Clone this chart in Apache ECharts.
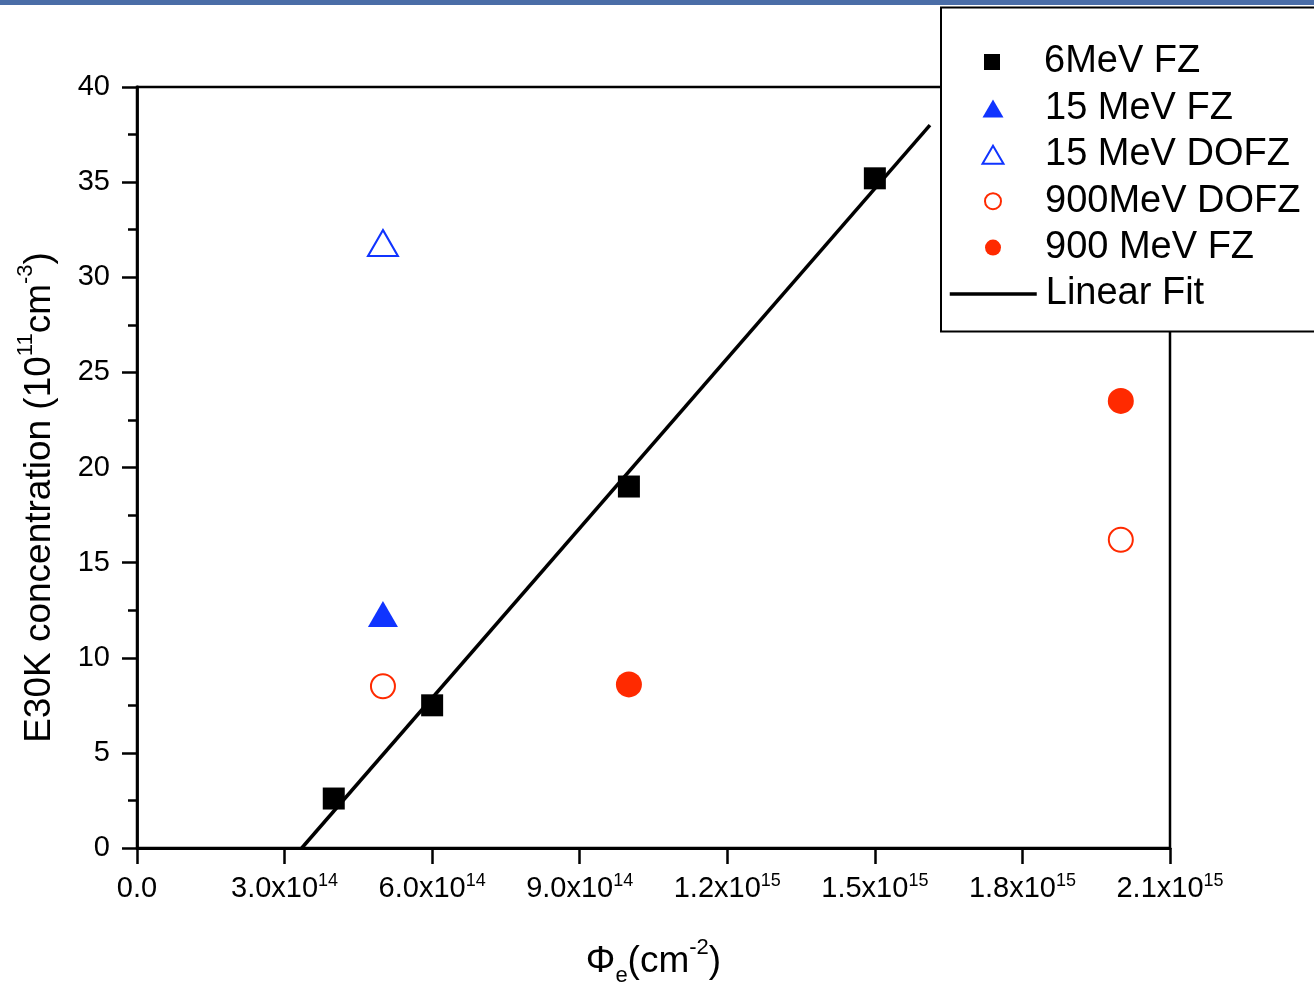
<!DOCTYPE html>
<html>
<head>
<meta charset="utf-8">
<title>E30K concentration vs fluence</title>
<script src="https://cdn.jsdelivr.net/npm/echarts@6/dist/echarts.min.js"></script>
<style>
  html, body { margin: 0; padding: 0; background: #fff; }
  #chart { width: 1314px; height: 986px; }
</style>
</head>
<body>
<div id="chart"></div>
<script>
// Measured E30K concentrations (10^11 cm^-3) against fluence (cm^-2)
const mev6FZ      = [[4.0e14, 2.6], [6.0e14, 7.5], [1.0e15, 19.0], [1.5e15, 35.2]];
const mev15FZ     = [[5.0e14, 12.3]];
const mev15DOFZ   = [[5.0e14, 31.8]];
const mev900DOFZ  = [[5.0e14, 8.5], [2.0e15, 16.2]];
const mev900FZ    = [[1.0e15, 8.6], [2.0e15, 23.5]];
// End points of the straight-line fit through the 6 MeV FZ data
const linearFit   = [[3.35e14, 0], [1.612e15, 38.0]];

const seriesNames = ['6MeV FZ', '15 MeV FZ', '15 MeV DOFZ', '900MeV DOFZ', '900 MeV FZ', 'Linear Fit'];

// x tick labels: mantissa text and power of ten
const xTickText  = ['0.0', '3.0x10', '6.0x10', '9.0x10', '1.2x10', '1.5x10', '1.8x10', '2.1x10'];
const xTickPower = ['', '14', '14', '14', '15', '15', '15', '15'];
const xStep = 3e14;

const FONT = '"Liberation Sans", Arial, sans-serif';
const BLUE = '#1034ff';
const RED = '#ff2a00';

// Legend rows: which entries share an icon size
const ROW0 = 62, ROW_STEP = 46.4, ICON_X = 992, TEXT_X = 1044;
const legendGroups = [
  { rows: [0],    names: [seriesNames[0]],                 w: 16, h: 16 },
  { rows: [1, 2], names: [seriesNames[1], seriesNames[2]], w: 21, h: 18 },
  { rows: [3, 4], names: [seriesNames[3], seriesNames[4]], w: 16, h: 16 },
  { rows: [5],    names: [seriesNames[5]],                 w: 87, h: 16, line: true }
];

const legends = legendGroups.map(function (g) {
  const left = g.line ? 948 : ICON_X - g.w / 2;
  const lg = {
    orient: 'vertical',
    left: left,
    top: ROW0 + g.rows[0] * ROW_STEP - 20,
    padding: 0,
    itemWidth: g.w,
    itemHeight: g.h,
    itemGap: ROW_STEP - 40,
    symbolKeepAspect: false,
    selectedMode: false,
    data: g.names.map(function (n) {
      return g.line ? { name: n, itemStyle: { opacity: 0 } } : { name: n };
    }),
    textStyle: {
      fontFamily: FONT, fontSize: 38, color: '#000', lineHeight: 40,
      padding: [0, 0, 0, TEXT_X - (left + g.w + 5)]
    },
    z: 20
  };
  if (g.line) lg.lineStyle = { color: '#000', width: 3.5 };
  return lg;
});

const chart = echarts.init(document.getElementById('chart'), null, { renderer: 'canvas' });

const option = {
  backgroundColor: '#fff',
  animation: false,
  textStyle: { fontFamily: FONT, color: '#000' },
  graphic: [
    {
      type: 'rect', z: 10,
      shape: { x: 0, y: 0, width: 1314, height: 5 },
      style: { fill: '#4a6da7' }
    },
    {
      type: 'rect', z: 15,
      shape: { x: 941, y: 7.5, width: 420, height: 324 },
      style: { fill: '#fff', stroke: '#000', lineWidth: 2 }
    }
  ],
  grid: {
    left: 137, right: 144, top: 87, bottom: 138,
    outerBoundsMode: 'none',
    containLabel: false,
    show: true, borderColor: '#000', borderWidth: 2.5, backgroundColor: 'transparent'
  },
  legend: legends,
  xAxis: {
    type: 'value',
    min: 0, max: 2.1e15, interval: xStep,
    name: '{t|Φ}{u|e}{t|(cm}{s|-2}{t|)}',
    nameLocation: 'middle',
    nameGap: 89,
    nameTextStyle: {
      rich: {
        t: { fontFamily: FONT, fontSize: 37, color: '#000', lineHeight: 50, verticalAlign: 'middle' },
        s: { fontFamily: FONT, fontSize: 22, color: '#000', verticalAlign: 'top' },
        u: { fontFamily: FONT, fontSize: 22, color: '#000', verticalAlign: 'bottom' }
      }
    },
    axisLine: { lineStyle: { color: '#000', width: 2.8 } },
    axisTick: { show: true, inside: false, length: 16, lineStyle: { color: '#000', width: 2.5 } },
    minorTick: { show: false },
    splitLine: { show: false },
    axisLabel: {
      margin: 24,
      formatter: function (v) {
        const i = Math.round(v / xStep);
        const p = xTickPower[i];
        return p ? '{b|' + xTickText[i] + '}{s|' + p + '}' : '{b|' + xTickText[i] + '}';
      },
      rich: {
        b: { fontFamily: FONT, fontSize: 29, color: '#000', lineHeight: 34, verticalAlign: 'middle' },
        s: { fontFamily: FONT, fontSize: 18, color: '#000', verticalAlign: 'top' }
      }
    }
  },
  yAxis: {
    type: 'value',
    min: 0, max: 40, interval: 5,
    name: '{t|E30K concentration (10}{s|11}{t|cm}{s|-3}{t|)}',
    nameLocation: 'middle',
    nameRotate: 90,
    nameGap: 72,
    nameTextStyle: {
      padding: [0, 60, 0, 0],
      rich: {
        t: { fontFamily: FONT, fontSize: 37, color: '#000', lineHeight: 50, verticalAlign: 'middle' },
        s: { fontFamily: FONT, fontSize: 22, color: '#000', verticalAlign: 'top' }
      }
    },
    axisLine: { show: true, lineStyle: { color: '#000', width: 2.8 } },
    axisTick: { show: true, inside: false, length: 15, lineStyle: { color: '#000', width: 2.5 } },
    minorTick: { show: true, splitNumber: 2, length: 9, lineStyle: { color: '#000', width: 2.5 } },
    splitLine: { show: false },
    minorSplitLine: { show: false },
    axisLabel: { margin: 27, fontFamily: FONT, fontSize: 29, color: '#000' }
  },
  series: [
    {
      name: seriesNames[0], type: 'scatter', data: mev6FZ,
      symbol: 'rect', symbolSize: 22,
      itemStyle: { color: '#000', opacity: 1 }, z: 3
    },
    {
      name: seriesNames[1], type: 'scatter', data: mev15FZ,
      symbol: 'triangle', symbolSize: [30, 26],
      itemStyle: { color: BLUE, opacity: 1 }
    },
    {
      name: seriesNames[2], type: 'scatter', data: mev15DOFZ,
      symbol: 'triangle', symbolSize: [30, 26],
      itemStyle: { color: '#fff', borderColor: BLUE, borderWidth: 2, opacity: 1 }
    },
    {
      name: seriesNames[3], type: 'scatter', data: mev900DOFZ,
      symbol: 'circle', symbolSize: 24,
      itemStyle: { color: '#fff', borderColor: RED, borderWidth: 2, opacity: 1 }
    },
    {
      name: seriesNames[4], type: 'scatter', data: mev900FZ,
      symbol: 'circle', symbolSize: 26,
      itemStyle: { color: RED, opacity: 1 }
    },
    {
      name: seriesNames[5], type: 'line', data: linearFit,
      symbol: 'none', showSymbol: false,
      itemStyle: { color: '#000' },
      lineStyle: { color: '#000', width: 3.5 },
      z: 4
    }
  ]
};

chart.setOption(option);
</script>
</body>
</html>
